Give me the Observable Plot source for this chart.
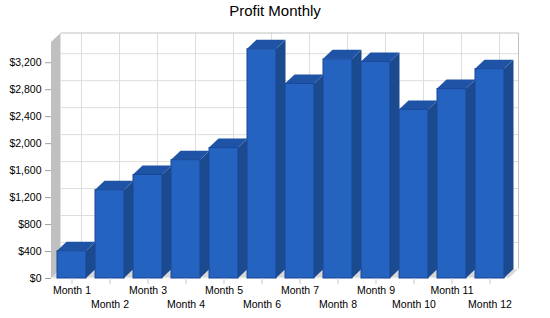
<!DOCTYPE html>
<html><head><meta charset="utf-8">
<script src="https://cdn.jsdelivr.net/npm/d3@7"></script>
<script src="https://cdn.jsdelivr.net/npm/@observablehq/plot@0.6"></script>
<style>
body{margin:0;background:#fff;font-family:"Liberation Sans",Arial,sans-serif}
#wrap{position:relative;width:550px;height:318px}
#title{position:absolute;top:1px;left:0;width:550px;text-align:center;font-size:15px;color:#000;line-height:20px}
#chart svg{display:block}
</style></head><body>
<div id="wrap"><div id="chart"></div><div id="title">Profit Monthly</div></div>
<script>
const months = ["Month 1","Month 2","Month 3","Month 4","Month 5","Month 6","Month 7","Month 8","Month 9","Month 10","Month 11","Month 12"];
const profit = [405, 1310, 1535, 1755, 1935, 3400, 2885, 3250, 3210, 2500, 2810, 3105];
const yTicks = [0, 400, 800, 1200, 1600, 2000, 2400, 2800, 3200];
const data = months.map((m, i) => ({month: m, profit: profit[i]}));

const DX = 9.5, DY = 9;
const FRONT = "#2563c0", TOP = "#1f53a5", SIDE = "#1c4a8f", EDGE = "#1a4796";

function walls(index, scales, values, dims) {
  const x0 = dims.marginLeft, x1 = dims.width - dims.marginRight;
  const yb = scales.y(0), yt = dims.marginTop;
  const g = d3.create("svg:g");
  // back wall edges
  g.append("path")
    .attr("d", `M${x0 + DX},${yt - DY}L${x1 + DX},${yt - DY}L${x1 + DX},${yb - DY}`)
    .attr("fill", "none").attr("stroke", "#c0c0c0");
  // floor
  g.append("path")
    .attr("d", `M${x0},${yb}L${x1},${yb}L${x1 + DX},${yb - DY}L${x0 + DX},${yb - DY}Z`)
    .attr("fill", "#d8d8d8").attr("stroke", "#f4f4f4");
  // left wall
  g.append("path")
    .attr("d", `M${x0},${yb}L${x0},${yt}L${x0 + DX},${yt - DY}L${x0 + DX},${yb - DY}Z`)
    .attr("fill", "#c0c0c0");
  return g.node();
}

function bars3d(index, scales, values, dims, ctx, next) {
  const g = next(index, scales, values, dims, ctx);
  d3.select(g).selectAll("rect").each(function() {
    const x = +this.getAttribute("x"), y = +this.getAttribute("y");
    const w = +this.getAttribute("width"), h = +this.getAttribute("height");
    const p = this.parentNode;
    const side = document.createElementNS("http://www.w3.org/2000/svg", "path");
    side.setAttribute("d", `M${x + w},${y}L${x + w + DX},${y - DY}L${x + w + DX},${y + h - DY}L${x + w},${y + h}Z`);
    side.setAttribute("fill", SIDE);
    side.setAttribute("stroke", "none");
    const top = document.createElementNS("http://www.w3.org/2000/svg", "path");
    top.setAttribute("d", `M${x},${y}L${x + DX},${y - DY}L${x + w + DX},${y - DY}L${x + w},${y}Z`);
    top.setAttribute("fill", TOP);
    top.setAttribute("stroke", "none");
    p.insertBefore(side, this);
    p.insertBefore(top, this);
  });
  return g;
}

const plot = Plot.plot({
  width: 550,
  height: 318,
  marginLeft: 51,
  marginRight: 41,
  marginTop: 42,
  marginBottom: 40,
  style: {fontFamily: "Liberation Sans, Arial, sans-serif", fontSize: "10.5px", background: "#fff", color: "#000"},
  x: {domain: months, paddingInner: 0.25, paddingOuter: 0.135, label: null},
  y: {domain: [0, 3500], label: null},
  marks: [
    Plot.ruleY(yTicks.slice(1), {stroke: "#dddddd", dx: DX, dy: -DY}),
    Plot.ruleX(months, {y1: 0, y2: 3500, stroke: "#dddddd", dx: DX, dy: -DY}),
    walls,
    Plot.barY(data, {x: "month", y: "profit", fill: FRONT, stroke: EDGE, strokeWidth: 1, render: bars3d}),
    Plot.axisY(yTicks, {tickSize: 6, tickPadding: 4, tickFormat: d => "$" + d3.format(",")(d), stroke: "#a0a0a0", fill: "#000", label: null}),
    Plot.axisX({tickSize: 6, tickFormat: () => "", stroke: "#c8c8c8", label: null}),
    Plot.text(data.filter((d, i) => i % 2 === 0), {x: "month", text: "month", frameAnchor: "bottom", dy: 15, fill: "#000"}),
    Plot.text(data.filter((d, i) => i % 2 === 1), {x: "month", text: "month", frameAnchor: "bottom", dy: 29, fill: "#000"})
  ]
});
document.getElementById("chart").appendChild(plot);
</script>
</body></html>
